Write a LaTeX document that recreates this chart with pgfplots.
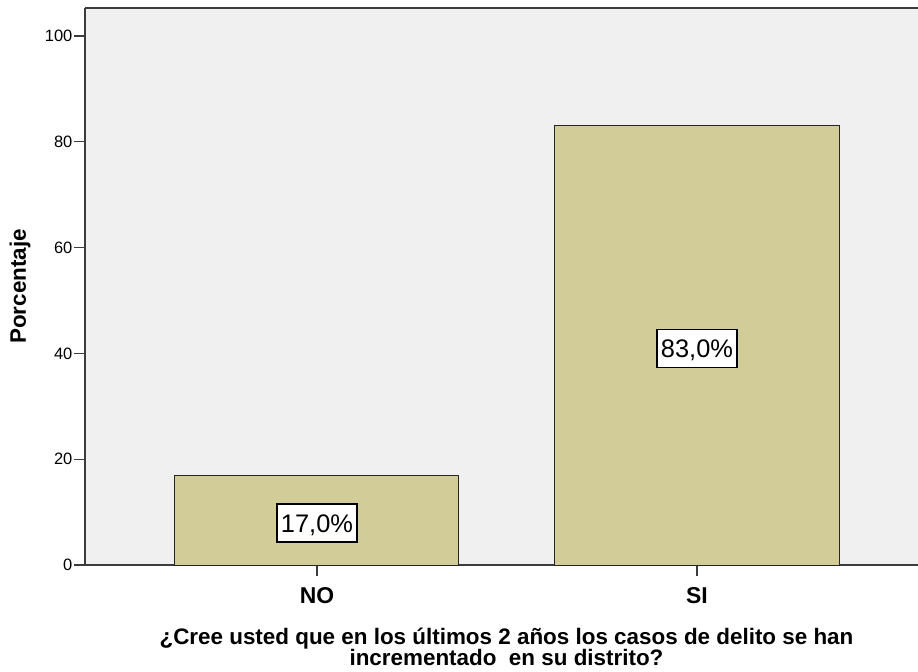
\documentclass[border=0pt]{standalone}
\usepackage{pgfplots}
\pgfplotsset{compat=1.18}
\usepackage{fontspec}
\setmainfont{Liberation Sans}
\definecolor{bgc}{RGB}{240,240,240}
\definecolor{barc}{RGB}{210,205,152}
\definecolor{axc}{RGB}{60,60,60}
\begin{document}
\begin{tikzpicture}
\useasboundingbox (0,0) rectangle (918bp,672bp);
\begin{axis}[
  at={(85bp,107bp)}, anchor=south west,
  scale only axis, width=833bp, height=557bp,
  xmin=-0.6105, xmax=1.5816, ymin=0, ymax=105.3,
  axis x line*=bottom, axis y line*=left,
  axis line style={axc, line width=1.3bp},
  axis background/.style={fill=bgc},
  xtick={0,1}, xticklabels={NO,SI},
  ytick={0,20,40,60,80,100},
  tick align=outside, major tick length=11bp,
  tick style={axc, line width=1.2bp},
  /pgf/number format/assume math mode=true,
  yticklabel style={font=\fontsize{16.5}{19}\selectfont, inner sep=1.5bp},
  xticklabel style={font=\fontsize{23}{26}\selectfont\bfseries, inner sep=2bp, yshift=-9bp},
  clip=false,
]
\addplot[ybar, bar width=284bp, fill=barc, draw=black!85, line width=1bp] coordinates {(0,17) (1,83)};
\addplot[only marks, mark=none, point meta=explicit symbolic,
  nodes near coords,
  every node near coord/.append style={anchor=center, yshift=-3bp, fill=white, draw=black, line width=1.2bp,
    font=\fontsize{25.5}{28}\selectfont, inner xsep=4bp, inner ysep=10bp, text height=18bp, text depth=0pt}]
  coordinates {(0,8.5) [17,0\%] (1,41.5) [83,0\%]};
\draw[axc, line width=1.3bp] (rel axis cs:0,1) -- (rel axis cs:1,1);
\node[rotate=90, font=\fontsize{22.5}{25}\selectfont\bfseries] at ([xshift=-65bp]rel axis cs:0,0.5) {Porcentaje};
\node[align=center, font=\fontsize{22.5}{21}\selectfont\bfseries] at ([xshift=5bp, yshift=-82bp]rel axis cs:0.5,0)
  {¿Cree usted que en los últimos 2 años los casos de delito se han\\incrementado\ \ en su distrito?};
\end{axis}
\end{tikzpicture}
\end{document}
